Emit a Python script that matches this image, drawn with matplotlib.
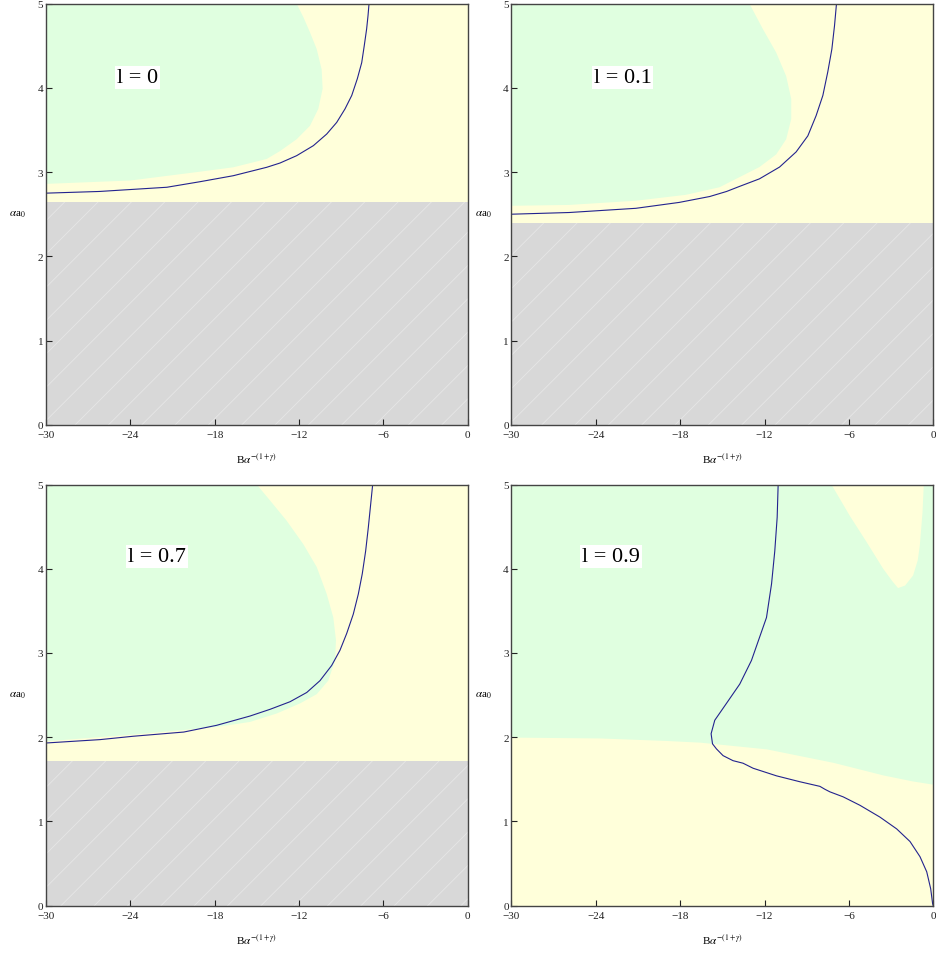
import numpy as np
import matplotlib
matplotlib.use("Agg")
import matplotlib.pyplot as plt

plt.rcParams['font.family'] = ['Liberation Serif', 'DejaVu Serif']
plt.rcParams['mathtext.fontset'] = 'stix'
plt.rcParams['hatch.linewidth'] = 0.6

# panel labels and the lower (gray) limit of each panel
labels = ['l = 0', 'l = 0.1', 'l = 0.7', 'l = 0.9']
gray_top = [2.65, 2.40, 1.72, None]
label_pos = [(-23.5, 4.12), (-22.1, 4.12), (-22.1, 4.14), (-22.9, 4.14)]

# blue curves (x, y)
curve0_x = [-30, -26.2, -21.4, -19.04, -16.68, -14.30, -13.35, -12.17, -10.98, -10.03, -9.32, -8.73,
            -8.25, -7.85, -7.54, -7.36, -7.19, -7.09, -7.02]
curve0_y = [2.75, 2.77, 2.82, 2.886, 2.957, 3.057, 3.108, 3.195, 3.314, 3.452, 3.59, 3.75,
            3.91, 4.11, 4.30, 4.50, 4.70, 4.86, 5.0]

curve1_x = [-30, -25.9, -21.15, -18.07, -15.9, -14.7, -13.78, -12.36, -10.93, -9.75, -8.92, -8.33, -7.85,
            -7.50, -7.21, -7.02, -6.88]
curve1_y = [2.50, 2.52, 2.57, 2.64, 2.71, 2.77, 2.83, 2.92, 3.06, 3.24, 3.43, 3.67, 3.91,
            4.19, 4.46, 4.74, 5.0]

curve2_x = [-30, -26.16, -23.8, -20.2, -17.86, -15.49, -14.06, -12.64, -11.45, -10.51, -9.68, -9.09,
            -8.61, -8.14, -7.78, -7.50, -7.26, -7.07, -6.90, -6.76]
curve2_y = [1.93, 1.97, 2.01, 2.06, 2.14, 2.25, 2.33, 2.42, 2.53, 2.67, 2.85, 3.03,
            3.23, 3.46, 3.70, 3.94, 4.21, 4.49, 4.77, 5.0]

curve3_x = [-11.03, -11.10, -11.27, -11.50, -11.86, -12.93, -13.76, -14.71, -15.54, -15.80, -15.70,
            -15.42, -14.95, -14.24, -13.53, -12.81, -11.15, -9.49, -8.06, -7.70, -7.35, -6.40,
            -5.21, -3.79, -2.60, -1.65, -0.94, -0.46, -0.18, -0.04, 0.0]
curve3_y = [5.0, 4.61, 4.21, 3.82, 3.42, 2.91, 2.63, 2.40, 2.20, 2.04, 1.92,
            1.86, 1.78, 1.72, 1.69, 1.63, 1.54, 1.47, 1.415, 1.38, 1.35, 1.29,
            1.19, 1.05, 0.91, 0.76, 0.58, 0.40, 0.20, 0.02, 0.0]

# green region outlines (panels 1-3)
green0_x = [-30, -30, -24, -19.04, -16.68, -14.30, -13.35, -12.17, -11.22, -10.63, -10.32, -10.39,
            -10.74, -11.22, -11.69, -12.17]
green0_y = [5.0, 2.86, 2.90, 3.005, 3.057, 3.156, 3.25, 3.39, 3.55, 3.75, 3.99, 4.22,
            4.46, 4.66, 4.84, 5.0]

green1_x = [-30, -30, -25.9, -21.15, -17.6, -15.2, -13.78, -12.36, -11.17, -10.46, -10.1, -10.1,
            -10.46, -11.17, -12.12, -13.07]
green1_y = [5.0, 2.60, 2.61, 2.66, 2.73, 2.82, 2.94, 3.06, 3.21, 3.39, 3.63, 3.87,
            4.14, 4.42, 4.70, 5.0]

green2_x = [-30, -30, -23.8, -17.86, -15.49, -13.59, -11.93, -10.74, -9.92, -9.44, -9.37, -9.56,
            -10.03, -10.74, -11.69, -12.88, -14.06, -15.01]
green2_y = [5.0, 1.95, 2.03, 2.12, 2.18, 2.28, 2.40, 2.51, 2.67, 2.91, 3.15, 3.42,
            3.70, 4.02, 4.29, 4.57, 4.81, 5.0]

# panel 4: yellow regions on a green background
yellow_low_x = [-30, -23.75, -19.0, -16.6, -11.86, -7.12, -3.56, -1.5, 0.0]
yellow_low_y = [2.00, 1.99, 1.96, 1.94, 1.86, 1.70, 1.55, 1.48, 1.44]

yellow_top_x = [-7.24, -5.94, -4.75, -3.56, -2.9, -2.5, -2.0, -1.43, -1.1, -0.95, -0.76, -0.67]
yellow_top_y = [5.0, 4.63, 4.32, 4.0, 3.85, 3.77, 3.80, 3.92, 4.10, 4.28, 4.67, 5.0]

curves = [(curve0_x, curve0_y), (curve1_x, curve1_y), (curve2_x, curve2_y), (curve3_x, curve3_y)]
greens = [(green0_x, green0_y), (green1_x, green1_y), (green2_x, green2_y), None]

yellow = '#ffffda'
green = '#e0ffe0'
gray = '#d8d8d8'
blue = '#23238e'

fig = plt.figure(figsize=(9.36, 9.54), dpi=100)
W, H = 936, 954
boxes = [(46, 4.7), (511.5, 4.7), (46, 485.5), (511.5, 485.5)]

for i in range(4):
    left, top = boxes[i]
    ax = fig.add_axes([left / W, 1 - (top + 421) / H, 421.7 / W, 421 / H])
    ax.set_xlim(-30, 0)
    ax.set_ylim(0, 5)

    if i < 3:
        ax.set_facecolor(yellow)
        ax.fill_between([-30, 0], 0, gray_top[i], facecolor=gray, edgecolor='#e6e6e6',
                        hatch='/', linewidth=0)
        gx, gy = greens[i]
        ax.fill(gx, gy, color=green, linewidth=0)
    else:
        ax.set_facecolor(green)
        ax.fill_between(yellow_low_x, 0, yellow_low_y, color=yellow, linewidth=0)
        ax.fill(yellow_top_x, yellow_top_y, color=yellow, linewidth=0)

    cx, cy = curves[i]
    ax.plot(cx, cy, color=blue, lw=0.8)

    lx, ly = label_pos[i]
    ax.text(lx, ly, labels[i], fontsize=16, ha='center', va='center',
            bbox=dict(facecolor='white', edgecolor='none', pad=1.5))

    ax.set_xticks([-30, -24, -18, -12, -6, 0])
    ax.set_xticklabels(['\u221230', '\u221224', '\u221218', '\u221212', '\u22126', '0'])
    ax.set_yticks([0, 1, 2, 3, 4, 5])
    ax.tick_params(direction='in', length=4, width=0.8, labelsize=8, colors='#222222')
    ax.tick_params(axis='x', pad=4)
    ax.tick_params(axis='y', pad=2)
    for s in ax.spines.values():
        s.set_color('#444444')
        s.set_linewidth(1.0)

    ax.set_xlabel(r'B$\alpha^{-(1+\gamma)}$', fontsize=8)
    ax.xaxis.set_label_coords(0.5, -0.065)
    ax.set_ylabel(r'$\alpha$a$_0$', fontsize=8, rotation=0, va='center', ha='center')
    ax.yaxis.set_label_coords(-0.067, 0.5)

fig.savefig('out.png', dpi=100)
